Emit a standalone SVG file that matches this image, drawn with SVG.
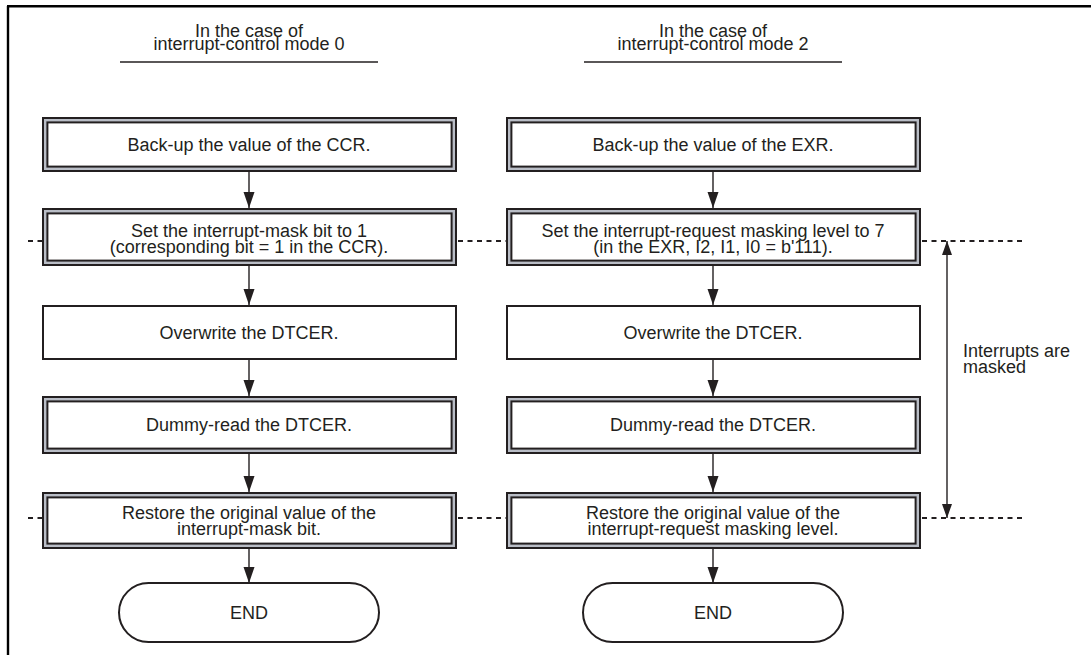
<svg xmlns="http://www.w3.org/2000/svg" width="1091" height="655" viewBox="0 0 1091 655">
<defs>
<style>
text{font-family:"Liberation Sans",Arial,sans-serif;font-size:18px;fill:#231f20}
.c{text-anchor:middle}
.outer{fill:#fff;stroke:#231f20;stroke-width:6.4}
.band{fill:none;stroke:#b9bdc6;stroke-width:2.4}
.plain{fill:#fff;stroke:#231f20;stroke-width:2}
.conn{stroke:#231f20;stroke-width:1.4;fill:none}
.dash{stroke:#231f20;stroke-width:2;stroke-dasharray:5 4.5;fill:none}
</style>
<marker id="ah" markerUnits="userSpaceOnUse" markerWidth="17" markerHeight="12" refX="16" refY="5.5" orient="auto-start-reverse">
<path d="M0,0 L16,5.5 L0,11 z" fill="#231f20"/>
</marker>
<marker id="ah2" markerUnits="userSpaceOnUse" markerWidth="15" markerHeight="11" refX="14" refY="5" orient="auto-start-reverse">
<path d="M0,0 L14,5 L0,10 z" fill="#231f20"/>
</marker>
</defs>
<rect width="1091" height="655" fill="#fff"/>
<g id="frame">
<line x1="8" y1="6" x2="8" y2="655" stroke="#000" stroke-width="2.4"/>
<line x1="7" y1="6.2" x2="1091" y2="6.2" stroke="#000" stroke-width="2.4"/>
</g>
<g id="title-left">
<text class="c" x="249" y="37">In the case of</text>
<text class="c" x="249" y="50">interrupt-control mode 0</text>
<line x1="120" y1="62" x2="378" y2="62" stroke="#231f20" stroke-width="1.6"/>
</g>
<g id="title-right">
<text class="c" x="713" y="37">In the case of</text>
<text class="c" x="713" y="50">interrupt-control mode 2</text>
<line x1="584" y1="62" x2="842" y2="62" stroke="#231f20" stroke-width="1.6"/>
</g>
<g id="guides">
<line class="dash" x1="28" y1="241" x2="42" y2="241"/>
<line class="dash" x1="458" y1="241" x2="506" y2="241"/>
<line class="dash" x1="922" y1="241" x2="1023" y2="241"/>
<line class="dash" x1="28" y1="518" x2="42" y2="518"/>
<line class="dash" x1="458" y1="518" x2="506" y2="518"/>
<line class="dash" x1="922" y1="518" x2="1023" y2="518"/>
</g>
<g id="connectors">
<line class="conn" x1="249" y1="172" x2="249" y2="208" marker-end="url(#ah)"/>
<line class="conn" x1="249" y1="266" x2="249" y2="305" marker-end="url(#ah)"/>
<line class="conn" x1="249" y1="360" x2="249" y2="396" marker-end="url(#ah)"/>
<line class="conn" x1="249" y1="454" x2="249" y2="492" marker-end="url(#ah)"/>
<line class="conn" x1="249" y1="549" x2="249" y2="583" marker-end="url(#ah)"/>
<line class="conn" x1="713" y1="172" x2="713" y2="208" marker-end="url(#ah)"/>
<line class="conn" x1="713" y1="266" x2="713" y2="305" marker-end="url(#ah)"/>
<line class="conn" x1="713" y1="360" x2="713" y2="396" marker-end="url(#ah)"/>
<line class="conn" x1="713" y1="454" x2="713" y2="492" marker-end="url(#ah)"/>
<line class="conn" x1="713" y1="549" x2="713" y2="583" marker-end="url(#ah)"/>
<line class="conn" x1="947" y1="241" x2="947" y2="518" stroke-width="1.3" marker-start="url(#ah2)" marker-end="url(#ah2)"/>
</g>
<g id="L1"><rect class="outer" x="45.2" y="120.2" width="408.6" height="48.6"/><rect class="band" x="45.2" y="120.2" width="408.6" height="48.6"/><text class="c" x="249" y="151">Back-up the value of the CCR.</text></g>
<g id="L2"><rect class="outer" x="45.2" y="211.2" width="408.6" height="51.6"/><rect class="band" x="45.2" y="211.2" width="408.6" height="51.6"/><text class="c" x="249" y="236.5">Set the interrupt-mask bit to 1</text><text class="c" x="249" y="252.5">(corresponding bit = 1 in the CCR).</text></g>
<g id="L3"><rect class="plain" x="43" y="306" width="413" height="53"/><text class="c" x="249" y="338.5">Overwrite the DTCER.</text></g>
<g id="L4"><rect class="outer" x="45.2" y="399.2" width="408.6" height="51.6"/><rect class="band" x="45.2" y="399.2" width="408.6" height="51.6"/><text class="c" x="249" y="431">Dummy-read the DTCER.</text></g>
<g id="L5"><rect class="outer" x="45.2" y="495.2" width="408.6" height="50.6"/><rect class="band" x="45.2" y="495.2" width="408.6" height="50.6"/><text class="c" x="249" y="519">Restore the original value of the</text><text class="c" x="249" y="535">interrupt-mask bit.</text></g>
<g id="L6"><rect class="plain" x="119" y="583" width="260" height="59" rx="29.5"/><text class="c" x="249" y="619">END</text></g>
<g id="R1"><rect class="outer" x="509.2" y="120.2" width="408.6" height="48.6"/><rect class="band" x="509.2" y="120.2" width="408.6" height="48.6"/><text class="c" x="713" y="151">Back-up the value of the EXR.</text></g>
<g id="R2"><rect class="outer" x="509.2" y="211.2" width="408.6" height="51.6"/><rect class="band" x="509.2" y="211.2" width="408.6" height="51.6"/><text class="c" x="713" y="236.5">Set the interrupt-request masking level to 7</text><text class="c" x="713" y="252.5">(in the EXR, I2, I1, I0 = b'111).</text></g>
<g id="R3"><rect class="plain" x="507" y="306" width="413" height="53"/><text class="c" x="713" y="338.5">Overwrite the DTCER.</text></g>
<g id="R4"><rect class="outer" x="509.2" y="399.2" width="408.6" height="51.6"/><rect class="band" x="509.2" y="399.2" width="408.6" height="51.6"/><text class="c" x="713" y="431">Dummy-read the DTCER.</text></g>
<g id="R5"><rect class="outer" x="509.2" y="495.2" width="408.6" height="50.6"/><rect class="band" x="509.2" y="495.2" width="408.6" height="50.6"/><text class="c" x="713" y="519">Restore the original value of the</text><text class="c" x="713" y="535">interrupt-request masking level.</text></g>
<g id="R6"><rect class="plain" x="583" y="583" width="260" height="59" rx="29.5"/><text class="c" x="713" y="619">END</text></g>
<g id="note"><text x="963" y="357">Interrupts are</text><text x="963" y="373">masked</text></g>
</svg>
